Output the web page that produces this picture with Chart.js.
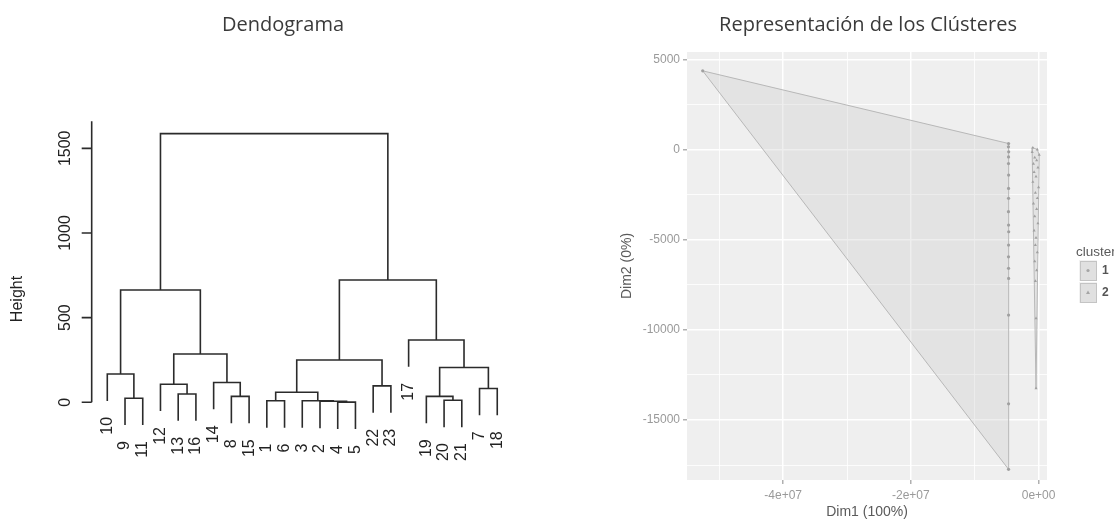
<!DOCTYPE html>
<html>
<head>
<meta charset="utf-8">
<script src="https://cdn.jsdelivr.net/npm/chart.js@4.4.1/dist/chart.umd.min.js"></script>
<style>
  body { margin: 0; background: #fff; }
  #wrap { position: relative; width: 1114px; height: 531px; overflow: hidden; }
  .box { position: absolute; top: 0; height: 531px; }
</style>
</head>
<body>
<div id="wrap">
  <div class="box" style="left:0;width:560px"><canvas id="dendro"></canvas></div>
  <div class="box" style="left:560px;width:554px"><canvas id="clusters"></canvas></div>
</div>
<script>
// ---- dendrogram data (hclust style: negative = leaf, positive = earlier merge) ----
const leafOrder = [10, 9, 11, 12, 13, 16, 14, 8, 15, 1, 6, 3, 2, 4, 5, 22, 23, 17, 19, 20, 21, 7, 18];
const mergeLeft   = [-9, -10, -13, -12, -8, -14, 4, 2, -1, -4, -2, -3, 9, -22, 13, -20, -19, -7, 17, -17, 15, 8];
const mergeRight  = [-11, 1, -16, 3, -15, 5, 6, 7, -6, -5, 10, 11, 12, -23, 14, -21, 16, -18, 18, 19, 20, 21];
const mergeHeight = [24, 167, 49, 107, 35, 117, 285, 663, 9, 1, 6, 9, 59, 97, 250, 12, 35, 82, 206, 368, 722, 1587];
const hangFraction = 0.1;
const heightTicks = [0, 500, 1000, 1500];

// ---- cluster plot data ----
const cluster1X = [-52.6e6, -4.7e6, -4.72e6, -4.68e6, -4.7e6, -4.71e6, -4.69e6, -4.7e6, -4.7e6, -4.72e6, -4.7e6, -4.68e6, -4.7e6, -4.71e6, -4.7e6, -4.69e6, -4.7e6, -4.7e6, -4.7e6];
const cluster1Y = [4360, 330, 150, -130, -410, -780, -1420, -2160, -2710, -3450, -4190, -4560, -5300, -5950, -6590, -7150, -9180, -14100, -17730];
const cluster2X = [-0.9e6, -0.2e6, -1.0e6, 0.1e6, -0.6e6, -0.3e6, -0.8e6, -0.1e6, -0.7e6, -0.4e6, -0.9e6, 0.0, -0.5e6, -0.2e6, -0.8e6, -0.3e6, -0.6e6, -0.1e6, -0.7e6, -0.4e6, -0.5e6, -0.2e6, -0.6e6, -0.3e6, -0.5e6, -0.4e6, -0.4e6];
const cluster2Y = [100, 0, -150, -300, -450, -600, -800, -1000, -1250, -1500, -1800, -2100, -2400, -2700, -3000, -3300, -3700, -4100, -4500, -4900, -5300, -5700, -6200, -6700, -7300, -9360, -13240];
const xTickValues = [-4e7, -2e7, 0];
const xTickLabels = ['-4e+07', '-2e+07', '0e+00'];
const xMinorValues = [-5e7, -3e7, -1e7];
const yTickValues = [5000, 0, -5000, -10000, -15000];
const yTickLabels = ['5000', '0', '-5000', '-10000', '-15000'];
const yMinorValues = [2500, -2500, -7500, -12500, -17500];
const clusterNames = ['1', '2'];

// ---- build dendrogram links ----
const leafPos = {};
leafOrder.forEach((id, i) => { leafPos[id] = i + 1; });
const hang = hangFraction * (Math.max(...mergeHeight) - Math.min(...mergeHeight));
const nodeX = [];
const leafEnds = [];
const links = [];
mergeHeight.forEach((h, k) => {
  const ends = [mergeLeft[k], mergeRight[k]].map(c => {
    if (c < 0) {
      const p = { x: leafPos[-c], y: h - hang };
      leafEnds.push({ id: -c, x: p.x, y: p.y });
      return p;
    }
    return { x: nodeX[c - 1], y: mergeHeight[c - 1] };
  });
  nodeX[k] = (ends[0].x + ends[1].x) / 2;
  links.push([ends[0], { x: ends[0].x, y: h }, { x: ends[1].x, y: h }, ends[1]]);
});

const dendroDecor = {
  id: 'dendroDecor',
  afterDatasetsDraw(chart) {
    const { ctx, scales: { x, y } } = chart;
    ctx.save();
    // title
    ctx.fillStyle = '#3a3a3a';
    ctx.font = '20px "Open Sans"';
    ctx.textAlign = 'center';
    ctx.textBaseline = 'middle';
    ctx.fillText('Dendograma', 283, 25);

    // y axis, R style
    const ax = x.getPixelForValue(1) - 15.6;
    ctx.strokeStyle = '#2b2b2b';
    ctx.lineWidth = 1.6;
    ctx.beginPath();
    ctx.moveTo(ax, y.getPixelForValue(0));
    ctx.lineTo(ax, y.getPixelForValue(1660));
    heightTicks.forEach(v => {
      const py = y.getPixelForValue(v);
      ctx.moveTo(ax, py);
      ctx.lineTo(ax - 10, py);
    });
    ctx.stroke();
    ctx.fillStyle = '#222';
    ctx.font = '16px "Liberation Sans"';
    heightTicks.forEach(v => {
      ctx.save();
      ctx.translate(ax - 26, y.getPixelForValue(v));
      ctx.rotate(-Math.PI / 2);
      ctx.textAlign = 'center';
      ctx.textBaseline = 'middle';
      ctx.fillText(String(v), 0, 0);
      ctx.restore();
    });
    ctx.save();
    ctx.translate(18, 299);
    ctx.rotate(-Math.PI / 2);
    ctx.textAlign = 'center';
    ctx.textBaseline = 'middle';
    ctx.fillText('Height', 0, 0);
    ctx.restore();

    // leaf labels
    leafEnds.forEach(l => {
      ctx.save();
      ctx.translate(x.getPixelForValue(l.x), y.getPixelForValue(l.y) + 16);
      ctx.rotate(-Math.PI / 2);
      ctx.textAlign = 'right';
      ctx.textBaseline = 'middle';
      ctx.fillText(String(l.id), 0, 0);
      ctx.restore();
    });
    ctx.restore();
  }
};

new Chart(document.getElementById('dendro'), {
  type: 'scatter',
  data: {
    datasets: links.map(pts => ({
      data: pts,
      showLine: true,
      borderColor: '#2b2b2b',
      borderWidth: 1.6,
      pointRadius: 0,
      tension: 0
    }))
  },
  plugins: [dendroDecor],
  options: {
    responsive: true,
    maintainAspectRatio: false,
    animation: false,
    events: [],
    layout: { padding: 0 },
    plugins: { legend: { display: false }, tooltip: { enabled: false } },
    scales: {
      x: { type: 'linear', display: false, min: -5.053, max: 26.54 },
      y: { type: 'linear', display: false, min: -760, max: 2376 }
    }
  }
});

// ---- cluster plot ----
function convexHull(pts) {
  const p = pts.slice().sort((a, b) => a.x - b.x || a.y - b.y);
  const cross = (o, a, b) => (a.x - o.x) * (b.y - o.y) - (a.y - o.y) * (b.x - o.x);
  const lower = [], upper = [];
  for (const q of p) {
    while (lower.length >= 2 && cross(lower[lower.length - 2], lower[lower.length - 1], q) <= 0) lower.pop();
    lower.push(q);
  }
  for (const q of p.slice().reverse()) {
    while (upper.length >= 2 && cross(upper[upper.length - 2], upper[upper.length - 1], q) <= 0) upper.pop();
    upper.push(q);
  }
  const h = lower.slice(0, -1).concat(upper.slice(0, -1));
  h.push(h[0]);
  return h;
}
const pts1 = cluster1X.map((v, i) => ({ x: v, y: cluster1Y[i] }));
const pts2 = cluster2X.map((v, i) => ({ x: v, y: cluster2Y[i] }));

const isMajorX = v => xTickValues.includes(v);
const isMajorY = v => yTickValues.includes(v);

const panelDecor = {
  id: 'panelDecor',
  beforeDraw(chart) {
    const { ctx, chartArea: a } = chart;
    ctx.save();
    ctx.fillStyle = '#efefef';
    ctx.fillRect(a.left, a.top, a.right - a.left, a.bottom - a.top);
    ctx.restore();
  },
  afterDraw(chart) {
    const { ctx } = chart;
    ctx.save();
    ctx.fillStyle = '#3a3a3a';
    ctx.font = '20px "Open Sans"';
    ctx.textAlign = 'center';
    ctx.textBaseline = 'middle';
    ctx.fillText('Representación de los Clústeres', 308, 25);

    ctx.fillStyle = '#5a5a5a';
    ctx.font = '14px "Liberation Sans"';
    ctx.fillText('Dim1 (100%)', 307, 512);
    ctx.save();
    ctx.translate(67, 266);
    ctx.rotate(-Math.PI / 2);
    ctx.fillText('Dim2 (0%)', 0, 0);
    ctx.restore();

    // legend
    ctx.textAlign = 'left';
    ctx.font = '13.5px "Liberation Sans"';
    ctx.fillText('cluster', 516, 252);
    clusterNames.forEach((name, i) => {
      const top = 260 + i * 22;
      ctx.fillStyle = '#f2f2f2';
      ctx.fillRect(519, top, 18, 21);
      ctx.fillStyle = 'rgba(205,205,205,0.5)';
      ctx.strokeStyle = '#c4c4c4';
      ctx.lineWidth = 1;
      ctx.fillRect(520, top + 1, 16, 19);
      ctx.strokeRect(520.5, top + 1.5, 16, 19);
      ctx.fillStyle = '#a5a5a5';
      ctx.beginPath();
      if (i === 0) ctx.arc(528, top + 10.5, 1.6, 0, Math.PI * 2);
      else { ctx.moveTo(528, top + 8.5); ctx.lineTo(530, top + 12); ctx.lineTo(526, top + 12); ctx.closePath(); }
      ctx.fill();
      ctx.fillStyle = '#555';
      ctx.font = 'bold 12px "Liberation Sans"';
      ctx.fillText(name, 542, top + 11);
    });
    ctx.restore();
  }
};

new Chart(document.getElementById('clusters'), {
  type: 'scatter',
  data: {
    datasets: [
      { data: pts1, pointStyle: 'circle', pointRadius: 1.6, pointBackgroundColor: '#a0a0a0', pointBorderWidth: 0 },
      { data: pts2, pointStyle: 'triangle', pointRadius: 1.8, pointBackgroundColor: '#a0a0a0', pointBorderWidth: 0 },
      { data: convexHull(pts1), showLine: true, fill: 'shape', backgroundColor: 'rgba(200,200,200,0.3)', borderColor: '#b8b8b8', borderWidth: 1, pointRadius: 0 },
      { data: convexHull(pts2), showLine: true, fill: 'shape', backgroundColor: 'rgba(200,200,200,0.3)', borderColor: '#b8b8b8', borderWidth: 1, pointRadius: 0 }
    ]
  },
  plugins: [panelDecor],
  options: {
    responsive: true,
    maintainAspectRatio: false,
    animation: false,
    events: [],
    layout: { padding: { left: 60, right: 67, top: 52, bottom: 0 } },
    plugins: { legend: { display: false }, tooltip: { enabled: false } },
    scales: {
      x: {
        type: 'linear', min: -55.06e6, max: 1.32e6,
        afterBuildTicks: s => { s.ticks = xMinorValues.concat(xTickValues).sort((a, b) => a - b).map(v => ({ value: v })); },
        afterFit: s => { s.height = 51; },
        border: { display: false },
        grid: {
          color: '#ffffff',
          lineWidth: c => (isMajorX(c.tick.value) ? 1.5 : 0.8),
          tickColor: c => (isMajorX(c.tick.value) ? '#b0b0b0' : 'rgba(0,0,0,0)'),
          tickLength: 4
        },
        ticks: {
          autoSkip: false, maxRotation: 0, padding: 4,
          color: '#9a9a9a', font: { family: 'Liberation Sans', size: 12 },
          callback: v => (isMajorX(v) ? xTickLabels[xTickValues.indexOf(v)] : '')
        }
      },
      y: {
        type: 'linear', min: -18324, max: 5405,
        afterBuildTicks: s => { s.ticks = yMinorValues.concat(yTickValues).sort((a, b) => a - b).map(v => ({ value: v })); },
        afterFit: s => { s.width = 67; },
        border: { display: false },
        grid: {
          color: '#ffffff',
          lineWidth: c => (isMajorY(c.tick.value) ? 1.5 : 0.8),
          tickColor: c => (isMajorY(c.tick.value) ? '#b0b0b0' : 'rgba(0,0,0,0)'),
          tickLength: 4
        },
        ticks: {
          autoSkip: false, padding: 3,
          color: '#9a9a9a', font: { family: 'Liberation Sans', size: 12 },
          callback: v => (isMajorY(v) ? yTickLabels[yTickValues.indexOf(v)] : '')
        }
      }
    }
  }
});
</script>
</body>
</html>
